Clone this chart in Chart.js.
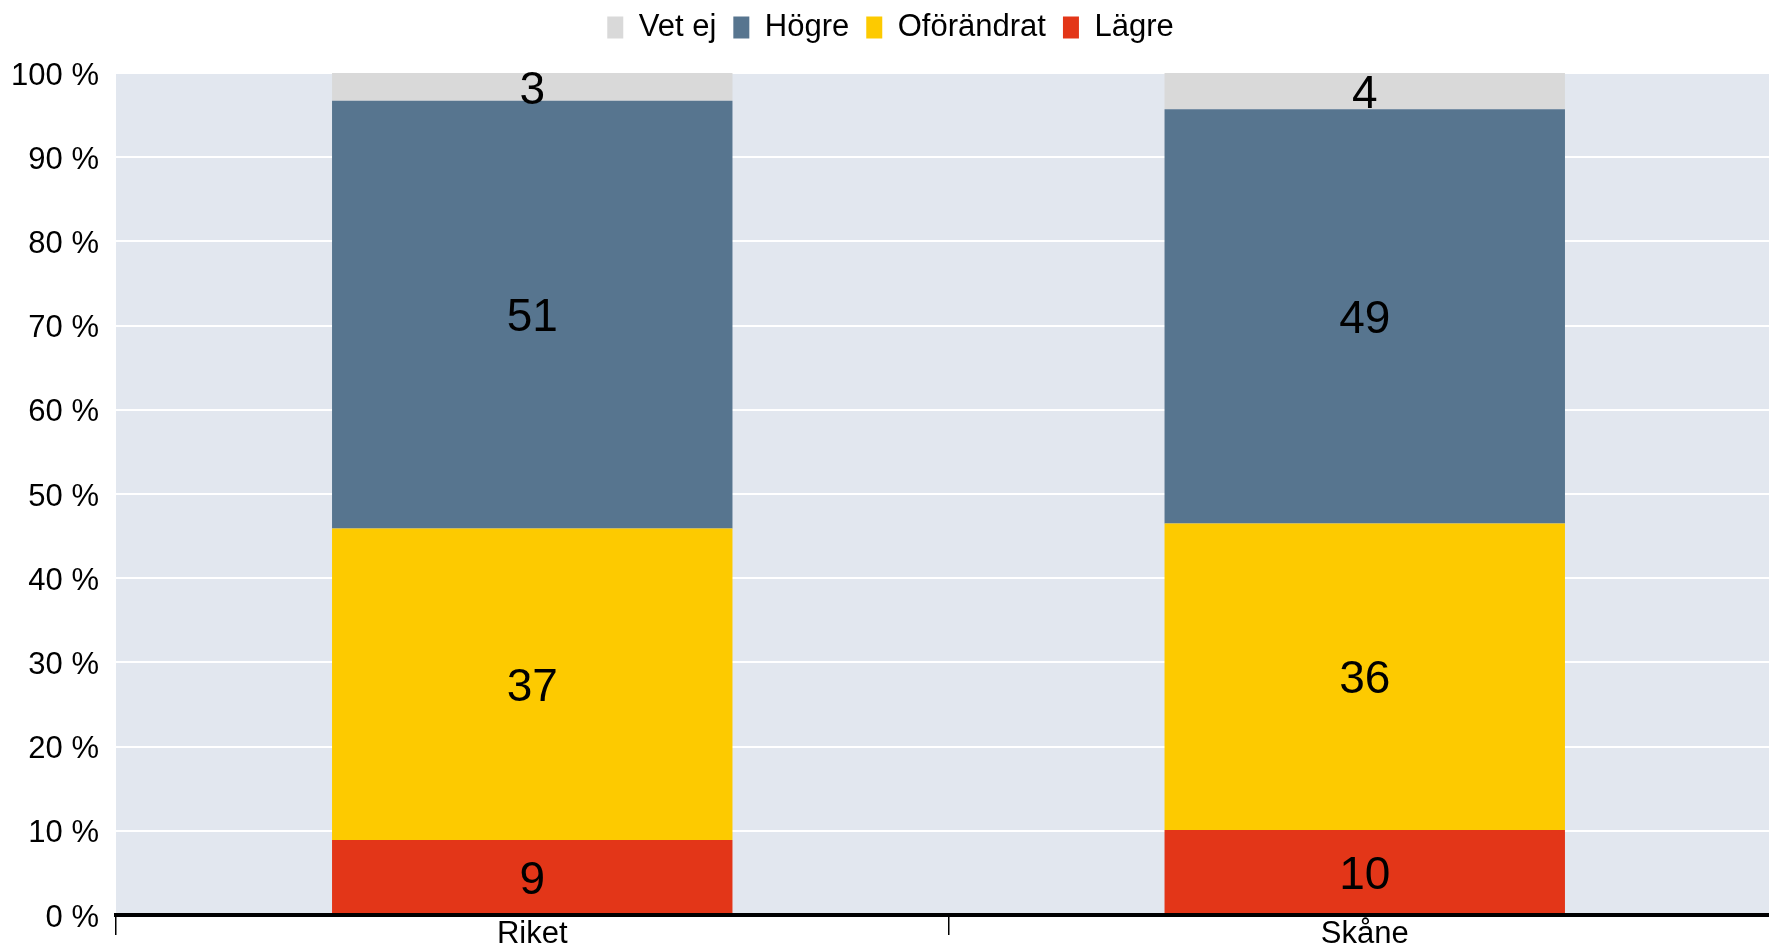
<!DOCTYPE html>
<html>
<head>
<meta charset="utf-8">
<script src="https://cdn.jsdelivr.net/npm/chart.js@4/dist/chart.umd.min.js"></script>
<style>
  html, body { margin: 0; padding: 0; background: #ffffff; overflow: hidden; }
  #wrap { position: absolute; left: 0; top: 0; width: 1781px; height: 947px; }
</style>
</head>
<body>
<div id="wrap"><canvas id="c"></canvas></div>
<script>
const categories = ['Riket', 'Skåne'];
const lagre = [8.9, 10.1];
const oforandrat = [37.0, 36.4];
const hogre = [50.8, 49.2];
const vetEj = [3.3, 4.3];
const yTicks = [0, 10, 20, 30, 40, 50, 60, 70, 80, 90, 100];

const FONT = '"Liberation Sans", Arial, sans-serif';
Chart.defaults.font.family = FONT;
Chart.defaults.color = '#000000';

const plotBg = {
  id: 'plotBg',
  beforeDraw(chart) {
    const a = chart.chartArea, ctx = chart.ctx;
    ctx.save();
    ctx.fillStyle = '#e2e7ef';
    ctx.fillRect(a.left, a.top, a.right - a.left, a.bottom - a.top);
    ctx.restore();
  }
};

const legendHeight = {
  id: 'legendHeight',
  afterInit(chart) {
    const lg = chart.legend;
    if (!lg) return;
    const fit = lg.fit.bind(lg);
    lg.fit = function () { fit(); this.height = 78; };
  }
};

const valueLabels = {
  id: 'valueLabels',
  afterDatasetsDraw(chart) {
    const ctx = chart.ctx;
    ctx.save();
    ctx.font = '46px ' + FONT;
    ctx.fillStyle = '#000000';
    ctx.textAlign = 'center';
    ctx.textBaseline = 'middle';
    chart.data.datasets.forEach((ds, di) => {
      const meta = chart.getDatasetMeta(di);
      meta.data.forEach((el, i) => {
        const v = ds.data[i];
        const y = (el.y + el.base) / 2;
        ctx.fillText(String(Math.round(v)), el.x, y + 4);
      });
    });
    ctx.restore();
  }
};

new Chart(document.getElementById('c'), {
  type: 'bar',
  data: {
    labels: categories,
    datasets: [
      { label: 'Lägre', data: lagre, backgroundColor: '#e33618' },
      { label: 'Oförändrat', data: oforandrat, backgroundColor: '#fdca00' },
      { label: 'Högre', data: hogre, backgroundColor: '#57758f' },
      { label: 'Vet ej', data: vetEj, backgroundColor: '#d9d9d9' }
    ]
  },
  options: {
    responsive: true,
    maintainAspectRatio: false,
    animation: false,
    layout: { padding: { top: -5, left: 0, right: 0, bottom: 0 } },
    datasets: { bar: { categoryPercentage: 1, barPercentage: 0.481, borderWidth: 0 } },
    plugins: {
      legend: {
        position: 'top',
        reverse: true,
        labels: {
          boxWidth: 16,
          boxHeight: 22,
          padding: 17,
          color: '#000000',
          font: { size: 31, family: FONT }
        }
      },
      tooltip: { enabled: false }
    },
    scales: {
      x: {
        stacked: true,
        offset: true,
        grid: {
          offset: true,
          drawOnChartArea: false,
          drawTicks: true,
          tickLength: 20,
          color: '#000000',
          lineWidth: 1.5
        },
        border: { display: true, color: '#000000', width: 4, z: 1 },
        ticks: { padding: -19, color: '#000000', font: { size: 31, family: FONT } },
        afterFit(scale) { scale.height = 32; }
      },
      y: {
        stacked: true,
        min: 0,
        max: 100,
        afterBuildTicks(scale) { scale.ticks = yTicks.map(v => ({ value: v })); },
        ticks: {
          padding: 17,
          labelOffset: 3,
          color: '#000000',
          font: { size: 31, family: FONT },
          callback: (v) => v + ' %'
        },
        grid: { color: '#ffffff', lineWidth: 2, drawTicks: false },
        border: { display: false },
        afterFit(scale) { scale.width = 116; scale.paddingBottom = 10; scale.paddingTop = 10; }
      }
    }
  },
  plugins: [plotBg, legendHeight, valueLabels]
});
</script>
</body>
</html>
